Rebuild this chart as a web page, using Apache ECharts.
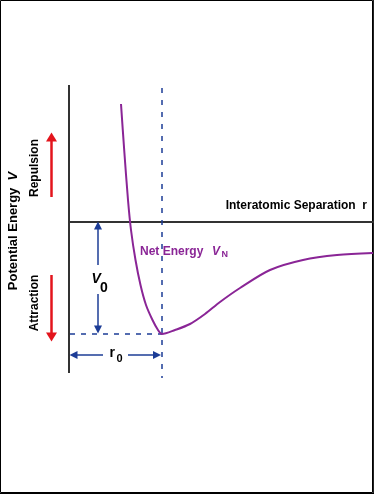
<!DOCTYPE html>
<html>
<head>
<meta charset="utf-8">
<script src="https://cdn.jsdelivr.net/npm/echarts@6/dist/echarts.min.js"></script>
<style>html,body{margin:0;padding:0;background:#fff}#c{width:374px;height:494px}</style>
</head>
<body>
<div id="c"></div>
<script>
// Schematic potential-energy curve (x: separation units, y: energy units; origin at axis crossing)
const curveSeparation = [52, 55.2, 59, 62, 66.5, 71.5, 77, 83.5, 89, 93, 106, 121, 136, 151, 171, 201, 234, 268, 304];
const curveEnergy     = [118, 72, 22, -8, -38, -63, -83, -98, -108, -112, -108, -102, -92, -80, -66, -48, -38, -33, -31];
const r0 = 93;          // equilibrium separation
const V0 = -112;        // minimum energy
const energyAxisTop = 137, energyAxisBottom = -151;
const separationAxisEnd = 305;

const FONT = '"Liberation Sans", Arial, sans-serif';
const NAVY = '#1c3c96';
const RED = '#e3141c';
const PURPLE = '#8a2596';

const chart = echarts.init(document.getElementById('c'), null, {renderer: 'canvas'});

function arrow(from, to, color, w, size) {
  return [
    {coord: from, symbol: 'none', lineStyle: {color: color, width: w, type: 'solid'}},
    {coord: to, symbol: 'triangle', symbolSize: size}
  ];
}

const option = {
  animation: false,
  grid: {left: 0, right: 0, top: 0, bottom: 0},
  xAxis: {type: 'value', min: -69, max: 305, show: false},
  yAxis: {type: 'value', min: -272, max: 222, show: false},
  series: [
    {
      type: 'line', silent: true, symbol: 'none',
      data: [[0, energyAxisTop], [0, energyAxisBottom]],
      lineStyle: {color: '#333', width: 2}
    },
    {
      type: 'line', silent: true, symbol: 'none',
      data: [[0, 0], [separationAxisEnd, 0]],
      lineStyle: {color: '#333', width: 2}
    },
    {
      type: 'line', silent: true, symbol: 'none',
      data: [[r0, 134], [r0, -156]],
      lineStyle: {color: NAVY, width: 1.5, type: [5, 7]}
    },
    {
      type: 'line', silent: true, symbol: 'none',
      data: [[1, V0], [r0, V0]],
      lineStyle: {color: NAVY, width: 1.5, type: [5, 6]}
    },
    {
      type: 'line', silent: true, symbol: 'none', smooth: 0.3,
      data: curveSeparation.map((r, i) => [r, curveEnergy[i]]),
      lineStyle: {color: PURPLE, width: 2},
      markLine: {
        silent: true, animation: false,
        label: {show: false},
        data: [
          arrow([-17.5, 25], [-17.5, 85], RED, 2.5, [11, 9]),
          arrow([-17.5, -53], [-17.5, -115], RED, 2.5, [11, 9]),
          arrow([29, -43], [29, -3.5], NAVY, 1.5, [8, 8]),
          arrow([29, -72], [29, -107.5], NAVY, 1.5, [8, 8]),
          arrow([34, -133], [4.5, -133], NAVY, 1.5, [8, 8]),
          arrow([59, -133], [88, -133], NAVY, 1.5, [8, 8])
        ]
      }
    }
  ],
  graphic: [
    {type: 'rect', silent: true, shape: {x: 0.5, y: 0.5, width: 372, height: 492}, style: {fill: 'none', stroke: '#000', lineWidth: 1}},
    {type: 'line', silent: true, shape: {x1: 373.5, y1: 0, x2: 373.5, y2: 494}, style: {stroke: '#222', lineWidth: 1}},
    {type: 'line', silent: true, shape: {x1: 0, y1: 493.5, x2: 374, y2: 493.5}, style: {stroke: '#000', lineWidth: 1}},
    {type: 'text', silent: true, x: 367, y: 206, style: {text: 'Interatomic Separation  r', font: 'bold 12px ' + FONT, fill: '#000', align: 'right', verticalAlign: 'middle'}},
    {type: 'text', silent: true, x: 140, y: 252, style: {text: 'Net Energy', font: 'bold 12px ' + FONT, fill: PURPLE, align: 'left', verticalAlign: 'middle'}},
    {type: 'text', silent: true, x: 212, y: 252, style: {text: 'V', font: 'italic bold 12px ' + FONT, fill: PURPLE, align: 'left', verticalAlign: 'middle'}},
    {type: 'text', silent: true, x: 221.5, y: 255, style: {text: 'N', font: 'bold 9px ' + FONT, fill: PURPLE, align: 'left', verticalAlign: 'middle'}},
    {type: 'text', silent: true, x: 91.5, y: 279, style: {text: 'V', font: 'italic bold 14px ' + FONT, fill: '#000', align: 'left', verticalAlign: 'middle'}},
    {type: 'text', silent: true, x: 100, y: 288, style: {text: '0', font: 'bold 14px ' + FONT, fill: '#000', align: 'left', verticalAlign: 'middle'}},
    {type: 'text', silent: true, x: 109.5, y: 353, style: {text: 'r', font: 'bold 14px ' + FONT, fill: '#000', align: 'left', verticalAlign: 'middle'}},
    {type: 'text', silent: true, x: 116.5, y: 359, style: {text: '0', font: 'bold 11px ' + FONT, fill: '#000', align: 'left', verticalAlign: 'middle'}},
    {type: 'text', silent: true, x: 13, y: 231, rotation: Math.PI / 2,
      style: {text: '{a|Potential Energy  }{b|V}', align: 'center', verticalAlign: 'middle',
        rich: {a: {font: 'bold 13px ' + FONT, fill: '#000'}, b: {font: 'italic bold 13px ' + FONT, fill: '#000'}}}},
    {type: 'text', silent: true, x: 34.5, y: 168, rotation: Math.PI / 2, style: {text: 'Repulsion', font: 'bold 12px ' + FONT, fill: '#000', align: 'center', verticalAlign: 'middle'}},
    {type: 'text', silent: true, x: 34.5, y: 303, rotation: Math.PI / 2, style: {text: 'Attraction', font: 'bold 12px ' + FONT, fill: '#000', align: 'center', verticalAlign: 'middle'}}
  ]
};
chart.setOption(option);
</script>
</body>
</html>
